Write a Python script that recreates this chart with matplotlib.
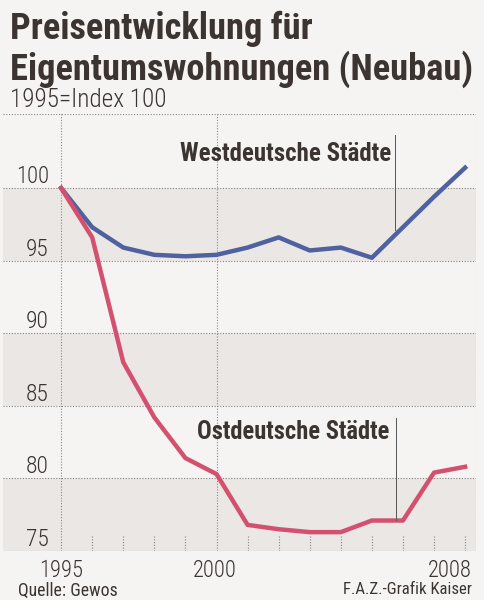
import matplotlib.pyplot as plt
from matplotlib import font_manager

# data
years = list(range(1995, 2009))
west = [100, 97.3, 95.9, 95.4, 95.3, 95.4, 95.9, 96.6, 95.7, 95.9, 95.2, 97.3, 99.4, 101.4]
ost = [100, 96.6, 88.0, 84.2, 81.4, 80.3, 76.8, 76.5, 76.3, 76.3, 77.1, 77.1, 80.4, 80.8]
yticks = [75, 80, 85, 90, 95, 100]
xlabels = [1995, 2000, 2008]

# pick a narrow font if there is one
fonts = font_manager.fontManager.ttflist
names = {f.name for f in fonts}
narrow = None
for cand in ['Liberation Sans Narrow', 'DejaVu Sans Condensed', 'Roboto Condensed', 'Open Sans Condensed']:
    if cand in names:
        narrow = dict(family=cand)
        break
if narrow is None:
    if any(f.name == 'DejaVu Sans' and 'condensed' in str(f.stretch) for f in fonts):
        narrow = dict(family='DejaVu Sans', stretch='condensed')
    else:
        narrow = dict(family='Roboto')
plt.rcParams['font.family'] = ['Roboto', 'DejaVu Sans']

txt = '#3b3431'
paper = '#f6f4f2'
band = '#eae7e5'
blue = '#4f619f'
red = '#d4506f'

W, H = 484, 600
fig = plt.figure(figsize=(4.84, 6.0), dpi=100, facecolor=paper)
ax = fig.add_axes([3 / W, 49 / H, 473 / W, 437 / H])
ax.set_facecolor(paper)
ax.set_xlim(1993.13, 2008.35)
ax.set_ylim(75, 105.1)
for s in ax.spines.values():
    s.set_visible(False)
ax.set_xticks([])
ax.set_yticks([])

r = fig.canvas.get_renderer()


def fit(t, width):
    w = t.get_window_extent(r).width
    t.set_fontsize(t.get_fontsize() * width / w)
    return t


def px(x, y):
    return x / W, 1 - y / H


# alternating bands
for lo in (75, 85, 95):
    ax.axhspan(lo, lo + 5, color=band, zorder=0, lw=0)

grid = dict(color='#8a8583', lw=0.8, ls=(0, (1, 1.5)), zorder=1)
for v in yticks:
    ax.axhline(v, **grid)
ax.axhline(105.1, **grid)
for x in (1995, 2000):
    ax.axvline(x, **grid)
ax.axvline(2008.35, **grid)
for x in years[1:]:
    if x != 2000:
        ax.plot([x, x], [75, 76.1], **grid)

ax.plot(years, west, color=blue, lw=3.2, zorder=3)
ax.plot(years, ost, color=red, lw=3.2, zorder=3)

# y tick labels
for v in yticks:
    t = ax.text(1994.6, v + 0.35, str(v), ha='right', va='baseline', fontsize=15,
                color=txt, fontweight='light', **narrow)
    fit(t, 33 if v == 100 else 23)

# series labels with pointer lines
t = fig.text(*px(180, 161), 'Westdeutsche Städte', ha='left', va='baseline',
             fontsize=16, fontweight='bold', color=txt, **narrow)
fit(t, 211)
fig.add_artist(plt.Line2D([395 / W] * 2, [1 - 135 / H, 1 - 230 / H], color='#555', lw=0.7))
t = fig.text(*px(197, 439), 'Ostdeutsche Städte', ha='left', va='baseline',
             fontsize=16, fontweight='bold', color=txt, **narrow)
fit(t, 193)
fig.add_artist(plt.Line2D([396 / W] * 2, [1 - 418 / H, 1 - 520 / H], color='#555', lw=0.7))

# x labels
xpos = {1995: (61, 'center'), 2000: (215, 'center'), 2008: (472, 'right')}
for x in xlabels:
    xx, ha = xpos[x]
    t = fig.text(*px(xx, 577), str(x), ha=ha, va='baseline', fontsize=16,
                 color=txt, fontweight='light', **narrow)
    fit(t, 44)

# title block
t1 = fig.text(*px(10, 39), 'Preisentwicklung für', ha='left', va='baseline',
              fontsize=28, fontweight='bold', color=txt, **narrow)
t2 = fig.text(*px(10, 80), 'Eigentumswohnungen (Neubau)', ha='left', va='baseline',
              fontsize=28, fontweight='bold', color=txt, **narrow)
fit(t2, 462)
t1.set_fontsize(t2.get_fontsize())
t = fig.text(*px(10, 107), '1995=Index 100', ha='left', va='baseline', fontsize=16,
             color=txt, fontweight='light', **narrow)
fit(t, 157)

t = fig.text(*px(18, 596), 'Quelle: Gewos', ha='left', va='baseline', fontsize=12,
             color=txt, **narrow)
fit(t, 99)
t = fig.text(*px(472, 594), 'F.A.Z.-Grafik Kaiser', ha='right', va='baseline', fontsize=12,
             color=txt, **narrow)
fit(t, 129)

fig.savefig('out.png', dpi=100, facecolor=paper)
